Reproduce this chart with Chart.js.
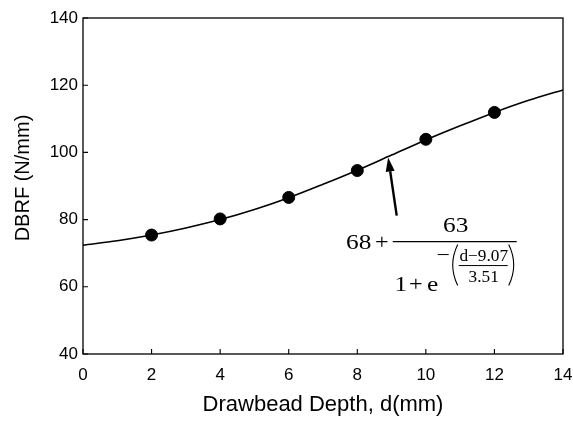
<!DOCTYPE html>
<html>
<head>
<meta charset="utf-8">
<script src="https://cdn.jsdelivr.net/npm/chart.js@4.4.1/dist/chart.umd.min.js"></script>
<style>
  html, body { margin: 0; padding: 0; background: #fff; }
  #wrap { width: 573px; height: 421px; }
</style>
</head>
<body>
<div id="wrap"><canvas id="dbrfChart"></canvas></div>
<script>
// measured drawbead restraining force
const depth = [2, 4, 6, 8, 10, 12];
const dbrf = [75.4, 80.2, 86.6, 94.6, 103.9, 111.9];

// fitted curve read every 1 mm
const fitDepth = [0, 1, 2, 3, 4, 5, 6, 7, 8, 9, 10, 11, 12, 13, 14];
const fitDbrf = [72.4, 73.7, 75.4, 77.5, 80.0, 83.0, 86.5, 90.5, 94.7, 99.2, 103.7, 107.9, 111.9, 115.5, 118.6];

const xTicks = [0, 2, 4, 6, 8, 10, 12, 14];
const yTicks = [40, 60, 80, 100, 120, 140];

// arrow from the formula up to the curve
const arrowTip = { x: 8.9, y: 98.5 };
const arrowTail = { x: 9.15, y: 81.2 };

const sans = '"Liberation Sans", Arial, Helvetica, sans-serif';
const serif = '"Liberation Serif", "Times New Roman", serif';

const boxAndTicks = {
  id: 'boxAndTicks',
  afterDraw(chart) {
    const { ctx, chartArea: a, scales } = chart;
    ctx.save();
    ctx.strokeStyle = '#000';
    ctx.lineWidth = 1.3;
    ctx.strokeRect(a.left, a.top, a.right - a.left, a.bottom - a.top);

    // inward ticks
    ctx.lineWidth = 1.1;
    ctx.beginPath();
    xTicks.forEach(v => {
      const px = scales.x.getPixelForValue(v);
      ctx.moveTo(px, a.bottom);
      ctx.lineTo(px, a.bottom - 5);
    });
    yTicks.forEach(v => {
      const py = scales.y.getPixelForValue(v);
      ctx.moveTo(a.left, py);
      ctx.lineTo(a.left + 5, py);
    });
    ctx.stroke();

    // y axis title
    ctx.fillStyle = '#000';
    ctx.font = '20px ' + sans;
    ctx.textAlign = 'center';
    ctx.textBaseline = 'middle';
    ctx.translate(23, 178);
    ctx.rotate(-Math.PI / 2);
    ctx.fillText('DBRF (N/mm)', 0, 0);
    ctx.restore();
  }
};

// serif text, slightly widened
function wideText(ctx, txt, x, y, sx) {
  ctx.save();
  ctx.translate(x, y);
  ctx.scale(sx, 1);
  ctx.fillText(txt, 0, 0);
  ctx.restore();
}

const formula = {
  id: 'formula',
  afterDraw(chart) {
    const { ctx, scales } = chart;
    const tipX = scales.x.getPixelForValue(arrowTip.x);
    const tipY = scales.y.getPixelForValue(arrowTip.y);
    const tx = scales.x.getPixelForValue(arrowTail.x);
    const ty = scales.y.getPixelForValue(arrowTail.y);

    ctx.save();
    ctx.strokeStyle = '#000';
    ctx.fillStyle = '#000';

    // arrow shaft + head
    const ang = Math.atan2(tipY - ty, tipX - tx);
    const headLen = 14, headW = 4.5;
    const bx = tipX - headLen * Math.cos(ang);
    const by = tipY - headLen * Math.sin(ang);
    ctx.lineWidth = 2.4;
    ctx.beginPath();
    ctx.moveTo(tx, ty);
    ctx.lineTo(bx, by);
    ctx.stroke();
    ctx.beginPath();
    ctx.moveTo(tipX, tipY);
    ctx.lineTo(bx + headW * Math.sin(ang), by - headW * Math.cos(ang));
    ctx.lineTo(bx - headW * Math.sin(ang), by + headW * Math.cos(ang));
    ctx.closePath();
    ctx.fill();

    // 68 + 63 / (1 + e^-((d-9.07)/3.51))
    ctx.textBaseline = 'alphabetic';
    ctx.textAlign = 'center';
    ctx.font = '22px ' + serif;
    wideText(ctx, '68', tx - 38, ty + 33, 1.15);
    wideText(ctx, '+', tx - 15, ty + 33, 1.1);
    wideText(ctx, '63', tx + 59, ty + 16, 1.15);
    wideText(ctx, '1', tx + 4, ty + 75, 1.15);
    wideText(ctx, '+', tx + 19, ty + 75, 1.1);
    wideText(ctx, 'e', tx + 36, ty + 75, 1.15);

    ctx.lineWidth = 1.2;
    ctx.beginPath();
    ctx.moveTo(tx - 4, ty + 26);
    ctx.lineTo(tx + 120, ty + 26);
    ctx.stroke();

    // exponent
    ctx.lineWidth = 1;
    ctx.beginPath();
    ctx.moveTo(tx + 41, ty + 39);
    ctx.lineTo(tx + 52, ty + 39);
    ctx.stroke();
    // parentheses
    const pTop = ty + 29, pBot = ty + 70;
    ctx.lineWidth = 1.1;
    ctx.beginPath();
    ctx.moveTo(tx + 61, pTop);
    ctx.quadraticCurveTo(tx + 51, (pTop + pBot) / 2, tx + 61, pBot);
    ctx.moveTo(tx + 112, pTop);
    ctx.quadraticCurveTo(tx + 122, (pTop + pBot) / 2, tx + 112, pBot);
    ctx.stroke();

    ctx.font = '16px ' + serif;
    wideText(ctx, 'd\u22129.07', tx + 87, ty + 45, 1.08);
    wideText(ctx, '3.51', tx + 87, ty + 66, 1.08);
    ctx.lineWidth = 1;
    ctx.beginPath();
    ctx.moveTo(tx + 62, ty + 50);
    ctx.lineTo(tx + 111, ty + 50);
    ctx.stroke();
    ctx.restore();
  }
};

new Chart(document.getElementById('dbrfChart'), {
  type: 'scatter',
  data: {
    datasets: [
      {
        label: 'fit',
        type: 'line',
        data: fitDepth.map((d, i) => ({ x: d, y: fitDbrf[i] })),
        borderColor: '#000',
        borderWidth: 1.6,
        pointRadius: 0,
        cubicInterpolationMode: 'monotone',
        fill: false
      },
      {
        label: 'DBRF',
        data: depth.map((d, i) => ({ x: d, y: dbrf[i] })),
        backgroundColor: '#000',
        borderColor: '#000',
        pointRadius: 6,
        pointHoverRadius: 6
      }
    ]
  },
  options: {
    responsive: true,
    maintainAspectRatio: false,
    animation: false,
    layout: { padding: { left: 0, right: 10, top: 18, bottom: 0 } },
    plugins: { legend: { display: false }, tooltip: { enabled: false } },
    scales: {
      x: {
        type: 'linear',
        min: 0,
        max: 14,
        afterBuildTicks: s => { s.ticks = xTicks.map(v => ({ value: v })); },
        afterFit: s => { s.height = 67; s.paddingLeft = 0; s.paddingRight = 0; },
        grid: { display: false, drawTicks: false },
        border: { display: false },
        ticks: { color: '#000', font: { family: sans, size: 17 }, padding: 11 },
        title: {
          display: true,
          text: 'Drawbead Depth, d(mm)',
          color: '#000',
          font: { family: sans, size: 22 },
          padding: { top: 0, bottom: 3 }
        }
      },
      y: {
        type: 'linear',
        min: 40,
        max: 140,
        afterBuildTicks: s => { s.ticks = yTicks.map(v => ({ value: v })); },
        afterFit: s => { s.width = 83; s.paddingTop = 0; s.paddingBottom = 0; },
        grid: { display: false, drawTicks: false },
        border: { display: false },
        ticks: { color: '#000', font: { family: sans, size: 17 }, padding: 5 }
      }
    }
  },
  plugins: [boxAndTicks, formula]
});
</script>
</body>
</html>
